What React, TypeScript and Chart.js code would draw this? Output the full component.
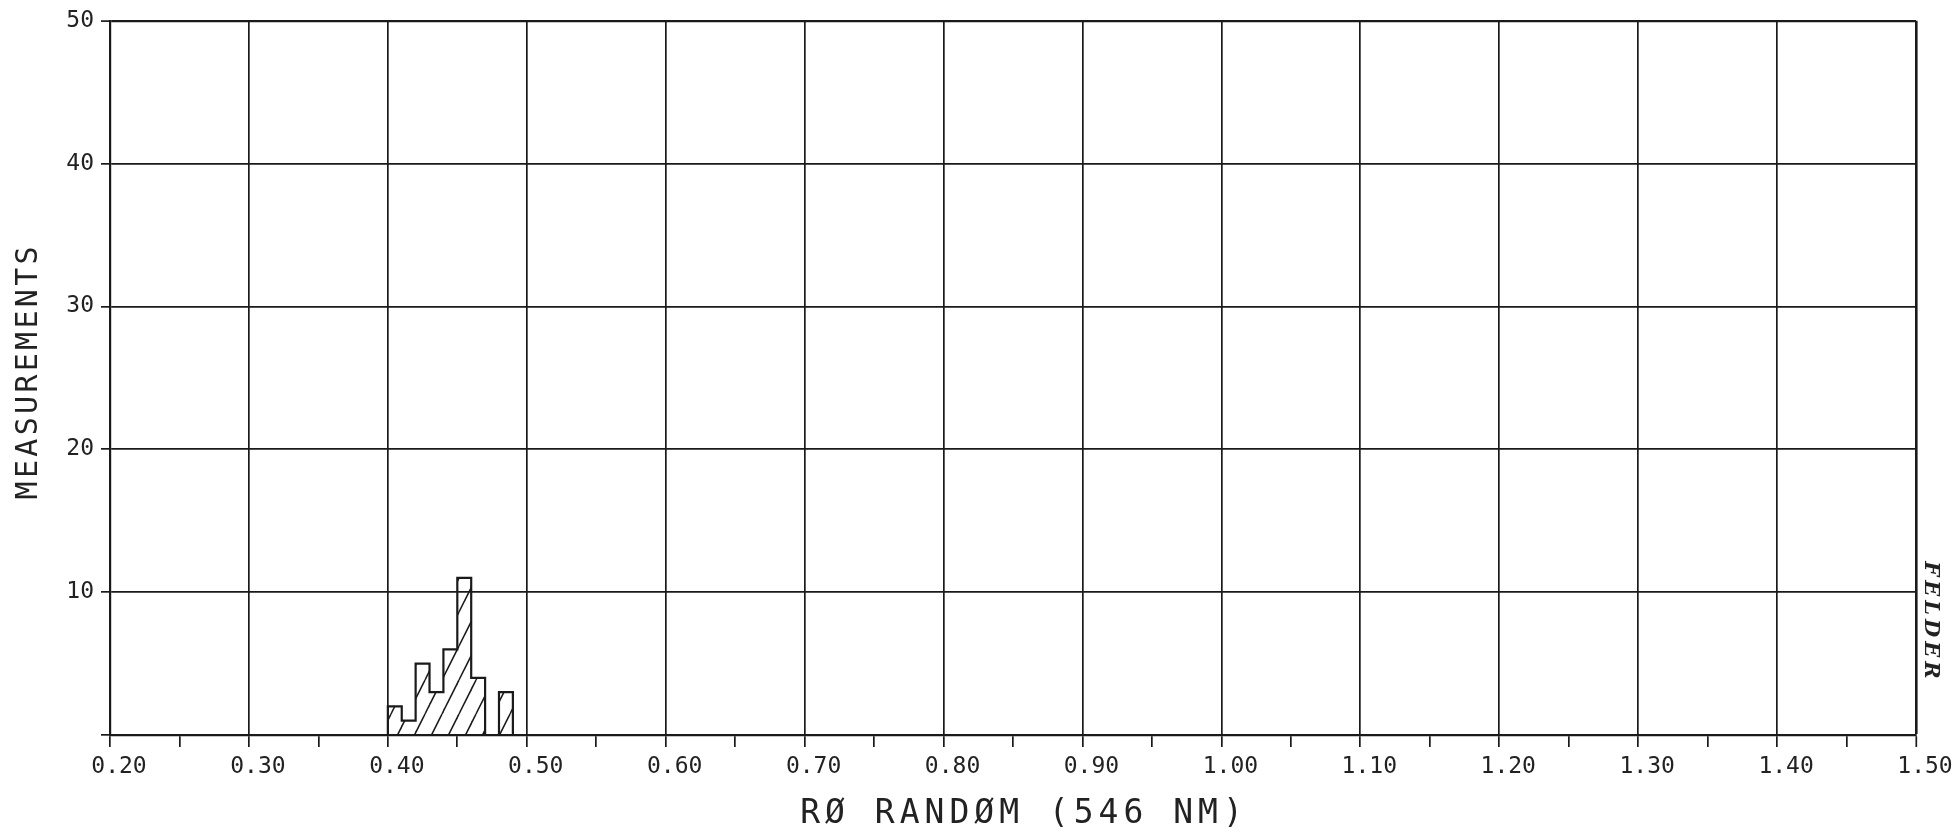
import React, { useEffect, useRef } from 'react';
import { Chart, registerables } from 'chart.js';

Chart.register(...registerables);

// ---- data ----
const X_MIN = 0.2;
const X_MAX = 1.5;
const X_STEP = 0.05; // major every 0.10, minor ticks in between
const Y_MIN = 0;
const Y_MAX = 50;
const Y_STEP = 10;

const binStarts = [0.40, 0.41, 0.42, 0.43, 0.44, 0.45, 0.46, 0.47, 0.48, 0.49];
const binWidth = 0.01;
const counts = [2, 1, 5, 3, 6, 11, 4, 0, 3, 0];

const xTitle = 'RØ RANDØM (546 NM)';
const yTitle = 'MEASUREMENTS';
const signature = 'FELDER';

// ---- styles ----
const INK = '#1a1a1a';
const TEXT = '#222222';
const MONO = "'DejaVu Sans Mono', monospace";

function makeHatch(): CanvasPattern | string {
  const w = 17;
  const h = 34;
  const c = document.createElement('canvas');
  c.width = w;
  c.height = h;
  const g = c.getContext('2d');
  if (!g) return 'transparent';
  g.strokeStyle = INK;
  g.lineWidth = 1.5;
  for (let k = -1; k <= 1; k++) {
    g.beginPath();
    g.moveTo(k * w, h);
    g.lineTo(k * w + w, 0);
    g.stroke();
  }
  const p = g.createPattern(c, 'repeat');
  return p || 'transparent';
}

const isMinor = (v: number) => Math.round(v * 100) % 10 !== 0;

const titlesPlugin = {
  id: 'plotterTitles',
  afterDraw(chart: any) {
    const { ctx, chartArea: a } = chart;
    const drawSpaced = (
      text: string,
      font: string,
      spacing: number,
      cx: number,
      cy: number,
      rot: number
    ) => {
      ctx.save();
      ctx.font = font;
      ctx.fillStyle = TEXT;
      (ctx as any).letterSpacing = '0px';
      const w0 = ctx.measureText(text).width;
      const w = w0 + spacing * (text.length - 1);
      (ctx as any).letterSpacing = spacing + 'px';
      ctx.textAlign = 'left';
      ctx.textBaseline = 'middle';
      ctx.translate(cx, cy);
      ctx.rotate(rot);
      ctx.fillText(text, -w / 2, 0);
      ctx.restore();
    };
    drawSpaced(xTitle, `33px ${MONO}`, 5, (a.left + a.right) / 2 + 8.5, a.bottom + 79, 0);
    drawSpaced(yTitle, `30px ${MONO}`, 3.3, 29.5, (a.top + a.bottom) / 2 - 5, -Math.PI / 2);
    drawSpaced(signature, `italic bold 21px 'DejaVu Serif', serif`, 4, a.right + 14, a.bottom - 115, Math.PI / 2);
  },
};

export default function App() {
  const ref = useRef<HTMLCanvasElement | null>(null);

  useEffect(() => {
    if (!ref.current) return;
    const hatch = makeHatch();

    const barData = counts.map((c, i) => ({ x: binStarts[i] + binWidth / 2, y: c }));
    const outline = [
      { x: binStarts[0], y: 0 },
      ...counts.map((c, i) => ({ x: binStarts[i], y: c })),
      { x: binStarts[binStarts.length - 1] + binWidth, y: 0 },
    ];

    const chart = new Chart(ref.current, {
      type: 'bar',
      data: {
        datasets: [
          {
            type: 'line',
            data: outline,
            borderColor: INK,
            borderWidth: 2.2,
            pointRadius: 0,
            stepped: true,
            fill: false,
            order: 0,
          } as any,
          {
            type: 'bar',
            data: barData,
            backgroundColor: hatch as any,
            borderWidth: 0,
            barPercentage: 1,
            categoryPercentage: 1,
            grouped: false,
            order: 1,
          } as any,
        ],
      },
      options: {
        responsive: false,
        animation: false,
        devicePixelRatio: 1,
        layout: { padding: { top: 18, right: 41, left: 0, bottom: 0 } },
        plugins: {
          legend: { display: false },
          tooltip: { enabled: false },
          title: { display: false },
        },
        scales: {
          x: {
            type: 'linear',
            min: X_MIN,
            max: X_MAX,
            offset: false,
            afterFit: (s: any) => {
              s.height = 97;
            },
            grid: {
              offset: false,
              drawTicks: true,
              tickLength: 12,
              color: (c: any) => (c.tick && isMinor(c.tick.value) ? 'rgba(0,0,0,0)' : INK),
              tickColor: INK,
              lineWidth: (c: any) => (c.tick && Math.abs(c.tick.value - X_MAX) < 1e-6 ? 2.6 : 1.7),
              tickWidth: 1.7,
            },
            border: { display: true, color: INK, width: 2.2 },
            ticks: {
              stepSize: X_STEP,
              autoSkip: false,
              maxRotation: 0,
              minRotation: 0,
              padding: 6,
              labelOffset: 9,
              color: TEXT,
              font: { family: MONO, size: 23 },
              callback: (v: any) => {
                const n = Number(v);
                return isMinor(n) ? '' : n.toFixed(2);
              },
            },
          } as any,
          y: {
            type: 'linear',
            min: Y_MIN,
            max: Y_MAX,
            afterFit: (s: any) => {
              s.width = 110;
            },
            grid: {
              drawTicks: true,
              tickLength: 9,
              color: INK,
              tickColor: INK,
              lineWidth: (c: any) => (c.tick && c.tick.value === Y_MAX ? 2.2 : 1.7),
              tickWidth: 1.7,
            },
            border: { display: true, color: INK, width: 2.2 },
            ticks: {
              stepSize: Y_STEP,
              autoSkip: false,
              padding: 7,
              color: TEXT,
              font: { family: MONO, size: 23 },
              callback: (v: any) => (Number(v) === 0 ? '' : String(v)),
            },
          } as any,
        },
      },
      plugins: [titlesPlugin],
    });

    return () => chart.destroy();
  }, []);

  return (
    <div style={{ position: 'absolute', left: 0, top: 0, width: 1957, height: 832, background: '#fff' }}>
      <canvas ref={ref} width={1957} height={832} style={{ display: 'block' }} />
    </div>
  );
}
